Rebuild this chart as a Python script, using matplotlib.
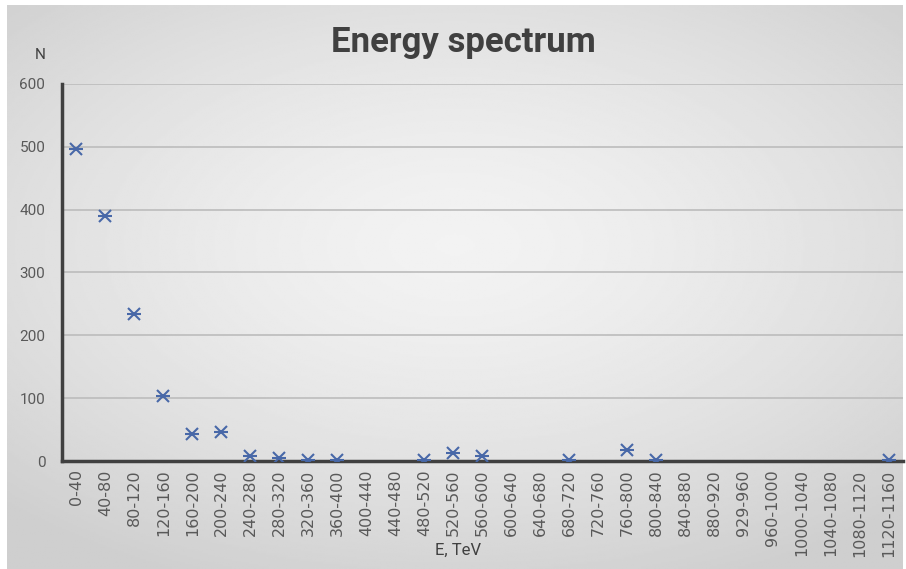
import numpy as np
import matplotlib.pyplot as plt

# Energy bins (TeV) and counts; NaN = no point drawn
bins = ["0-40", "40-80", "80-120", "120-160", "160-200", "200-240", "240-280",
        "280-320", "320-360", "360-400", "400-440", "440-480", "480-520",
        "520-560", "560-600", "600-640", "640-680", "680-720", "720-760",
        "760-800", "800-840", "840-880", "880-920", "929-960", "960-1000",
        "1000-1040", "1040-1080", "1080-1120", "1120-1160"]
counts = [497, 390, 234, 103, 43, 46, 8, 5, 1, 1, np.nan, np.nan, 2,
          13, 8, np.nan, np.nan, 2, np.nan, 18, 2, np.nan, np.nan, np.nan,
          np.nan, np.nan, np.nan, np.nan, 1]
yticks = [0, 100, 200, 300, 400, 500, 600]

narrow = ["Roboto", "DejaVu Sans"]

fig = plt.figure(figsize=(9.06, 5.69), dpi=100, facecolor="white")

# soft grey gradient background like the Excel chart area
bg = fig.add_axes([7 / 906, 0, 1 - 10 / 906, 1 - 5 / 569], zorder=-10)
yy, xx = np.mgrid[-1:1:300j, -1:1:480j]
r = np.sqrt((xx * 0.9) ** 2 + ((yy + 0.15) * 1.0) ** 2)
bg.imshow(0.95 - 0.14 * np.clip(r / 1.3, 0, 1) ** 1.5, cmap="gray",
          vmin=0, vmax=1, aspect="auto", extent=[0, 1, 0, 1])
bg.set_xlim(0, 1)
bg.set_ylim(0, 1)
for s in bg.spines.values():
    s.set_visible(False)
bg.set_xticks([])
bg.set_yticks([])

ax = fig.add_axes([0.0684, 0.1898, 0.9283, 0.6626])
ax.patch.set_alpha(0)
x = np.arange(len(bins))
col = "#4868a8"
ax.plot(x, counts, linestyle="none", marker="x", markersize=9,
        markeredgewidth=1.5, color=col, zorder=3)
ax.plot(x, counts, linestyle="none", marker="_", markersize=9.5,
        markeredgewidth=1.5, color=col, zorder=3)

ax.set_xlim(-0.5, len(bins) - 0.5)
ax.set_ylim(0, 600)
ax.set_yticks(yticks)
ax.set_xticks(x)
ax.set_xticklabels(bins, rotation=90, fontsize=11.5, color="#595959",
                   family="DejaVu Sans")
ax.tick_params(axis="y", length=0, pad=12, labelsize=11, labelcolor="#595959")
ax.tick_params(axis="x", length=0, pad=6)
for lab in ax.get_yticklabels():
    lab.set_family(narrow)
ax.grid(axis="y", color="#bcbcbc", linewidth=1.2)
ax.set_axisbelow(True)
for side in ["top", "right"]:
    ax.spines[side].set_visible(False)
for side in ["left", "bottom"]:
    ax.spines[side].set_color("#404040")
    ax.spines[side].set_linewidth(2.5)
    ax.spines[side].set_zorder(2.5)

fig.text(0.511, 0.926, "Energy spectrum", ha="center", va="center",
         fontsize=25, fontweight="bold", color="#404040", family=narrow)
fig.text(0.044, 0.903, "N", ha="center", va="center", fontsize=11,
         color="#404040", family=narrow)
fig.text(0.506, 0.033, "E, TeV", ha="center", va="center", fontsize=12,
         color="#404040", family=narrow)

fig.savefig("out.png", dpi=100)
